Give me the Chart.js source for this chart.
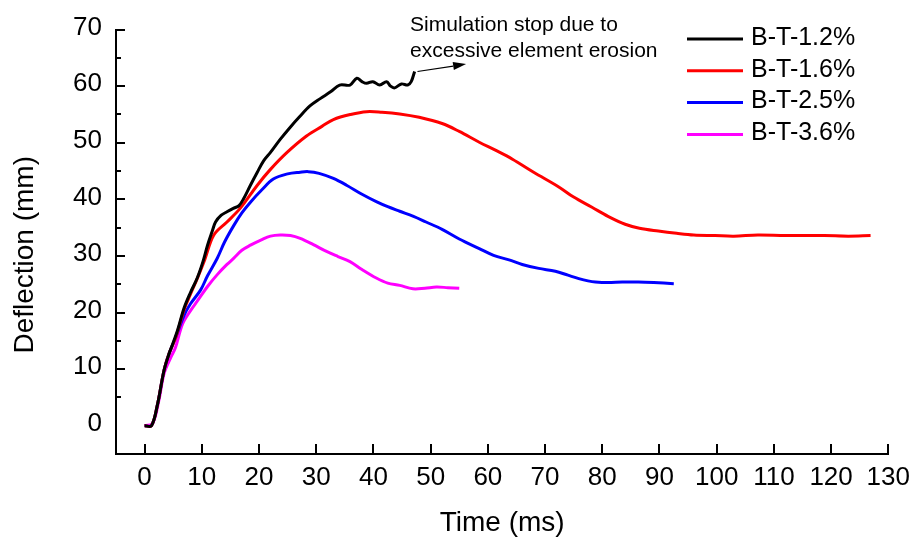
<!DOCTYPE html>
<html>
<head>
<meta charset="utf-8">
<title>Deflection vs time</title>
<script src="https://cdn.jsdelivr.net/npm/chart.js@4.4.0/dist/chart.umd.min.js"></script>
<style>
  html, body { margin: 0; padding: 0; background: #fff; }
  canvas { display: block; }
</style>
</head>
<body>
<canvas id="deflection" width="918" height="542"></canvas>
<script>
const seriesNames = ['B-T-1.2%', 'B-T-1.6%', 'B-T-2.5%', 'B-T-3.6%'];
const seriesColors = ['#000000', '#ff0000', '#0000ff', '#ff00ff'];

// time (ms) and mid-span deflection (mm) per specimen
const time12 = [0, 1.2, 2.2, 3.4, 4.3, 4.9, 5.8, 6.9, 8, 9.2, 10.2, 11, 11.8, 12.4, 13.4, 14.4, 15.5, 16.5, 17.3, 18.5, 19.7, 20.8, 22, 23.7, 25.5, 27, 28.9, 30.7, 32.5, 34.1, 35.9, 37.1, 38.0, 38.8, 39.9, 41.1, 42.3, 43.0, 43.7, 44.9, 46, 46.6, 47.2];
const defl12 = [0, 0, 3.5, 9.8, 12.8, 14.4, 17, 20.8, 23.5, 26.1, 29, 31.9, 34.3, 36, 37.2, 37.8, 38.4, 38.9, 40.1, 42.5, 44.8, 46.8, 48.3, 50.6, 52.8, 54.5, 56.5, 57.8, 59, 60.2, 60.2, 61.4, 60.8, 60.5, 60.8, 60.2, 60.8, 60.0, 59.7, 60.4, 60.2, 60.8, 62.6];

const time16 = [0, 1.2, 2.2, 3.4, 4.3, 5.4, 6.9, 8, 9.2, 10.5, 12.1, 14.4, 16.7, 19.7, 22, 24.9, 28.3, 31, 33, 36, 38.8, 41.5, 44.6, 48, 52, 55, 58.5, 61.5, 64.3, 68, 72.4, 75, 78.2, 81, 84, 86.5, 89.8, 93, 96, 99.7, 103, 107.2, 112, 118.8, 123, 126.9];
const defl16 = [0, 0, 3.5, 9.8, 12.8, 15.5, 20.5, 23.2, 26, 29.3, 33.7, 36, 38.4, 42.5, 45.3, 48.3, 51.2, 52.9, 54.1, 55, 55.5, 55.4, 55.1, 54.5, 53.4, 52.0, 50.1, 48.6, 47.1, 44.8, 42.2, 40.4, 38.6, 37, 35.6, 34.9, 34.4, 34.0, 33.7, 33.6, 33.5, 33.7, 33.6, 33.6, 33.5, 33.6];

const time25 = [0, 1.2, 2.2, 3.4, 4.3, 5.4, 6.9, 8, 9.8, 11, 12.7, 14, 15.6, 17, 18.5, 20.5, 22.5, 25, 27.2, 28.6, 30.5, 33, 35.3, 38, 40.5, 42.5, 44.6, 47, 49.2, 52, 55, 58.5, 61, 63.7, 66, 68.9, 71.8, 74, 75.9, 77.5, 78.8, 81, 83.5, 86.3, 89, 92.5];
const defl25 = [0, 0, 3.5, 9.8, 12.8, 15.5, 19.5, 21.5, 24, 26.5, 29.6, 32.5, 35.4, 37.6, 39.5, 41.7, 43.6, 44.5, 44.8, 44.9, 44.6, 43.7, 42.5, 40.9, 39.6, 38.7, 37.9, 37.0, 36, 34.7, 33, 31.3, 30.1, 29.3, 28.5, 27.8, 27.3, 26.6, 26, 25.6, 25.4, 25.3, 25.4, 25.4, 25.3, 25.1];

const time36 = [0, 1.4, 2.5, 3.4, 4.6, 5.4, 6.6, 8, 9.2, 11, 12.7, 14.4, 15.6, 17, 18.5, 20.5, 22, 23.7, 25.5, 27.2, 29.5, 31.8, 33.8, 35.9, 38, 40.5, 42.5, 44.6, 46.9, 49, 51, 53, 55];
const defl36 = [0, 0.4, 4.5, 9.2, 12.1, 13.8, 17.9, 20.3, 22, 24.6, 26.7, 28.5, 29.6, 31, 31.9, 32.9, 33.5, 33.7, 33.6, 33.1, 32, 30.8, 29.9, 29, 27.6, 26.1, 25.2, 24.8, 24.2, 24.3, 24.5, 24.4, 24.3];

const xTicks = [0, 10, 20, 30, 40, 50, 60, 70, 80, 90, 100, 110, 120, 130];
const yTicks = [0, 10, 20, 30, 40, 50, 60, 70];

// note at the end of the B-T-1.2% run
const noteLines = ['Simulation stop due to', 'excessive element erosion'];
const noteAt = { x: 46.4, y: 69.8 };
const arrowFrom = { x: 47.7, y: 62.6 };
const arrowTo = { x: 56.2, y: 63.9 };

const FONT = "Arial, 'Liberation Sans', sans-serif";
Chart.defaults.font.family = FONT;
Chart.defaults.color = '#000';

function toPoints(t, d) {
  return t.map((v, i) => ({ x: v, y: d[i] }));
}

const seriesData = [
  toPoints(time12, defl12),
  toPoints(time16, defl16),
  toPoints(time25, defl25),
  toPoints(time36, defl36),
];

// ticks drawn inside the plot area, like the original axes
const innerTicks = {
  id: 'innerTicks',
  afterDraw(chart) {
    const { ctx, scales: { x, y } } = chart;
    ctx.save();
    ctx.strokeStyle = '#000';
    ctx.lineWidth = 2;
    ctx.beginPath();
    xTicks.forEach(v => {
      const px = Math.round(x.getPixelForValue(v));
      ctx.moveTo(px, y.bottom);
      ctx.lineTo(px, y.bottom - 10);
    });
    for (let v = 5; v <= 70; v += 5) {
      const py = Math.round(y.getPixelForValue(v));
      const len = v % 10 === 0 ? 9 : 5;
      ctx.moveTo(x.left, py);
      ctx.lineTo(x.left + len, py);
    }
    ctx.stroke();
    ctx.restore();
  }
};

const sideLegend = {
  id: 'sideLegend',
  afterDraw(chart) {
    const ctx = chart.ctx;
    ctx.save();
    ctx.font = '25px ' + FONT;
    ctx.textBaseline = 'middle';
    ctx.fillStyle = '#000';
    chart.data.datasets.forEach((ds, i) => {
      const yy = 39 + i * 31.8;
      ctx.strokeStyle = ds.borderColor;
      ctx.lineWidth = 3;
      ctx.beginPath();
      ctx.moveTo(687, yy);
      ctx.lineTo(743, yy);
      ctx.stroke();
      ctx.fillText(ds.label, 751, yy - 1);
    });
    ctx.restore();
  }
};

const noteArrow = {
  id: 'noteArrow',
  afterDraw(chart) {
    const { ctx, scales: { x, y } } = chart;
    ctx.save();
    ctx.fillStyle = '#000';
    ctx.strokeStyle = '#000';
    ctx.font = '21px ' + FONT;
    ctx.textBaseline = 'alphabetic';
    const tx = x.getPixelForValue(noteAt.x);
    const ty = y.getPixelForValue(noteAt.y);
    noteLines.forEach((s, i) => ctx.fillText(s, tx, ty + i * 26));

    const x0 = x.getPixelForValue(arrowFrom.x), y0 = y.getPixelForValue(arrowFrom.y);
    const x1 = x.getPixelForValue(arrowTo.x), y1 = y.getPixelForValue(arrowTo.y);
    const ang = Math.atan2(y1 - y0, x1 - x0);
    const head = 13;
    ctx.lineWidth = 1.2;
    ctx.beginPath();
    ctx.moveTo(x0, y0);
    ctx.lineTo(x1 - head * Math.cos(ang), y1 - head * Math.sin(ang));
    ctx.stroke();
    ctx.beginPath();
    ctx.moveTo(x1, y1);
    ctx.lineTo(x1 - head * Math.cos(ang) + 4 * Math.sin(ang), y1 - head * Math.sin(ang) - 4 * Math.cos(ang));
    ctx.lineTo(x1 - head * Math.cos(ang) - 4 * Math.sin(ang), y1 - head * Math.sin(ang) + 4 * Math.cos(ang));
    ctx.closePath();
    ctx.fill();
    ctx.restore();
  }
};

// y-axis title, sitting a little below the middle of the axis
const yTitle = {
  id: 'yTitle',
  afterDraw(chart) {
    const { ctx, chartArea } = chart;
    ctx.save();
    ctx.font = '28px ' + FONT;
    ctx.fillStyle = '#000';
    ctx.textAlign = 'center';
    ctx.textBaseline = 'middle';
    ctx.translate(25, (chartArea.top + chartArea.bottom) / 2 + 13);
    ctx.rotate(-Math.PI / 2);
    ctx.fillText('Deflection (mm)', 0, 0);
    ctx.restore();
  }
};

const chart = new Chart(document.getElementById('deflection').getContext('2d'), {
  type: 'line',
  data: {
    datasets: seriesNames.map((name, i) => ({
      label: name,
      data: seriesData[i],
      borderColor: seriesColors[i],
      backgroundColor: seriesColors[i],
      borderWidth: 3,
      pointRadius: 0,
      fill: false,
      tension: 0.35,
      borderJoinStyle: 'round',
    })),
  },
  options: {
    responsive: false,
    animation: false,
    devicePixelRatio: 1,
    layout: { padding: { top: 26, right: 27, left: 0, bottom: 0 } },
    plugins: {
      legend: { display: false },
      tooltip: { enabled: false },
    },
    scales: {
      x: {
        type: 'linear',
        min: -5,
        max: 130,
        grid: { display: false, drawTicks: false },
        border: { display: true, color: '#000', width: 2 },
        ticks: {
          stepSize: 5,
          autoSkip: false,
          maxRotation: 0,
          padding: 8,
          font: { size: 26 },
          callback: v => (xTicks.includes(v) ? String(v) : ''),
        },
        title: {
          display: true,
          text: 'Time (ms)',
          font: { size: 28 },
          padding: { top: 0, bottom: 2 },
        },
        afterFit: s => { s.height = 88; },
      },
      y: {
        min: -5,
        max: 70,
        grid: { display: false, drawTicks: false },
        border: { display: true, color: '#000', width: 2 },
        ticks: {
          stepSize: 5,
          autoSkip: false,
          padding: 14,
          labelOffset: -2,
          font: { size: 26 },
          callback: v => (yTicks.includes(v) ? String(v) : ''),
        },
        afterFit: s => { s.width = 116; },
      },
    },
  },
  plugins: [innerTicks, sideLegend, noteArrow, yTitle],
});
</script>
</body>
</html>
